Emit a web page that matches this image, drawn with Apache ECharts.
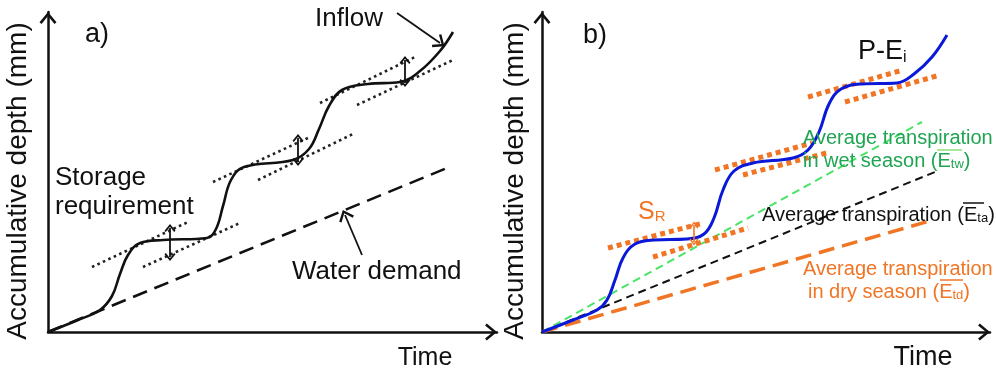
<!DOCTYPE html>
<html>
<head>
<meta charset="utf-8">
<script src="https://cdn.jsdelivr.net/npm/echarts@6/dist/echarts.min.js"></script>
<style>
  html, body { margin: 0; padding: 0; background: #fff; }
  #chart { width: 996px; height: 373px; }
</style>
</head>
<body>
<div id="chart"></div>
<script>
// Panel a: cumulative inflow against a constant water demand
const inflowA = [[0,0],[30,12],[52,22],[64,36],[72,58],[80,77],[92,89],[115,92],[159,94],
  [168,103],[175,126],[183,152],[196,165],[245,172],[261,183],[271,203],[281,226],
  [294,242],[320,248],[352,250],[372,261],[392,281],[405,300]];
const demandA = [[0,0],[399,164]];
const tangentsA = [
  [[44,65],[140,110]], [[95,65],[192,109]],
  [[165,150],[262,195]], [[210,152],[307,199]],
  [[272,229],[367,275]], [[309,227],[405,272]]
];
const storageArrowsA = [[[122,104],[122,75]], [[250,194],[250,170]], [[357,272],[357,249]]];
const inflowPointer = [[349,319],[392,289]];
const demandPointer = [[314,77],[297,117]];

// Panel b: precipitation minus interception against transpiration rates
const peB = [[0,0],[31,12],[55,22],[65,32],[73,52],[81,74],[93,88],[112,92],[145,93],
  [162,98],[172,114],[181,142],[192,161],[211,169],[251,174],[266,182],[277,200],
  [287,228],[299,243],[320,248],[355,249],[372,258],[390,275],[405,297]];
const wetB = [[0,0],[380,210]];
const avgB = [[0,0],[393,160]];
const dryB = [[0,0],[391,112]];
const tangentsB = [
  [[66,84],[161,109]], [[111,75],[206,104]],
  [[173,162],[270,189]], [[201,157],[288,180]],
  [[266,235],[361,262]], [[303,230],[398,257]]
];
const srArrowB = [[[152,107],[152,90]]];

const FONT = "'Liberation Sans', Arial, sans-serif";
const ORANGE = '#f07524';
const GREEN = '#1fa552';
const chevron = 'path://M10,0L20,12L17.6,14L10,4.6L2.4,14L0,12Z';

function axisPair(idx, xMax, yMax) {
  const line = { show: true, symbol: ['none', chevron], symbolSize: [17, 12], symbolOffset: [0, -6],
    lineStyle: { color: '#111', width: 2.5 } };
  const common = { type: 'value', gridIndex: idx, min: 0, axisLine: line,
    axisTick: { show: false }, axisLabel: { show: false }, splitLine: { show: false } };
  return [Object.assign({}, common, { max: xMax }), Object.assign({}, common, { max: yMax })];
}
const axA = axisPair(0, 449, 320);
const axB = axisPair(1, 448, 320);

function path(idx, data, lineStyle, smooth) {
  return { type: 'line', xAxisIndex: idx, yAxisIndex: idx, data: data, showSymbol: false,
    symbol: 'none', smooth: smooth || false, lineStyle: lineStyle, silent: true, z: 3 };
}
function arrows(idx, pairs, symbols, size, color, width) {
  return { type: 'line', xAxisIndex: idx, yAxisIndex: idx, data: [], clip: false,
    markLine: { silent: true, symbol: symbols, symbolSize: size, label: { show: false },
      lineStyle: { color: color, width: width, type: 'solid' },
      data: pairs.map(p => [{ coord: p[0] }, { coord: p[1] }]) }, z: 4 };
}

const series = [];
// panel a
tangentsA.forEach(t => series.push(path(0, t, { color: '#222', width: 2.6, type: [2.6, 3.4] })));
series.push(path(0, demandA, { color: '#111', width: 2.6, type: [15, 8] }));
series.push(path(0, inflowA, { color: '#111', width: 2.6 }, 0.4));
series.push(arrows(0, storageArrowsA, [chevron, chevron], [11, 8], '#111', 1.8));
series.push(arrows(0, [inflowPointer, demandPointer], ['none', chevron], [16, 11], '#111', 1.8));
// panel b
series.push(path(1, dryB, { color: ORANGE, width: 3.5, type: [16, 8] }));
series.push(path(1, avgB, { color: '#111', width: 2, type: [8, 5] }));
series.push(path(1, wetB, { color: '#49e466', width: 2, type: [8, 5] }));
tangentsB.forEach(t => series.push(path(1, t, { color: ORANGE, width: 5, type: [5, 4] })));
series.push(path(1, peB, { color: '#0a18d8', width: 3 }, 0.4));
series.push(arrows(1, srArrowB, [chevron, chevron], [9, 7], ORANGE, 1.6));

function txt(x, y, text, size, color, opts) {
  return Object.assign({ type: 'text', x: x, y: y, silent: true, z: 10,
    style: Object.assign({ text: text, fontFamily: FONT, fontSize: size, fill: color || '#111',
      align: 'left', verticalAlign: 'middle' }, (opts && opts.style) || {}) },
    opts && opts.rotation !== undefined ? { rotation: opts.rotation } : {});
}
function sub(x, y, main, s, size, subSize, color, tail) {
  return { type: 'text', x: x, y: y, silent: true, z: 10,
    style: { text: '{m|' + main + '}{s|' + s + '}' + (tail ? '{m|' + tail + '}' : ''),
      fontFamily: FONT, align: 'left', verticalAlign: 'middle',
      rich: { m: { fontFamily: FONT, fontSize: size, fill: color, lineHeight: size, verticalAlign: 'bottom' },
              s: { fontFamily: FONT, fontSize: subSize, fill: color, lineHeight: subSize, verticalAlign: 'bottom' } } } };
}
function bar(x1, x2, y, color) {
  return { type: 'line', silent: true, z: 11, shape: { x1: x1, y1: y, x2: x2, y2: y },
    style: { stroke: color, lineWidth: 1.5 } };
}

const graphic = [
  txt(97, 35, 'a)', 27, '#111', { style: { align: 'center' } }),
  txt(315, 19, 'Inflow', 26),
  txt(55, 178, 'Storage', 26),
  txt(55, 207, 'requirement', 26),
  txt(292, 272, 'Water demand', 26),
  txt(425, 358, 'Time', 25, '#111', { style: { align: 'center' } }),
  txt(18, 181, 'Accumulative depth (mm)', 28, '#111', { rotation: Math.PI / 2, style: { align: 'center' } }),

  txt(595, 36, 'b)', 27, '#111', { style: { align: 'center' } }),
  sub(858, 52, 'P-E', 'i', 27, 16, '#111'),
  sub(638, 212, 'S', 'R', 25, 15, ORANGE),
  txt(803, 138, 'Average transpiration', 20, GREEN),
  sub(803, 161, 'in wet season (E', 'tw', 20, 13, GREEN, ')'),
  sub(762, 215, 'Average transpiration (E', 'ta', 20, 13, '#111', ')'),
  txt(803, 269, 'Average transpiration', 20, ORANGE),
  sub(808, 292, 'in dry season (E', 'td', 20, 13, ORANGE, ')'),
  txt(923, 358, 'Time', 27, '#111', { style: { align: 'center' } }),
  txt(515, 181, 'Accumulative depth (mm)', 28, '#111', { rotation: Math.PI / 2, style: { align: 'center' } }),

  bar(937, 962, 150, '#8be07a'),
  bar(963, 984, 203, '#111'),
  bar(940, 963, 280, ORANGE)
];

const chart = echarts.init(document.getElementById('chart'), null, { renderer: 'canvas' });
chart.setOption({
  animation: false,
  backgroundColor: '#fff',
  grid: [
    { left: 48, top: 12, width: 449, height: 320 },
    { left: 542, top: 12, width: 448, height: 320 }
  ],
  xAxis: [axA[0], axB[0]],
  yAxis: [axA[1], axB[1]],
  series: series,
  graphic: graphic
});
</script>
</body>
</html>
